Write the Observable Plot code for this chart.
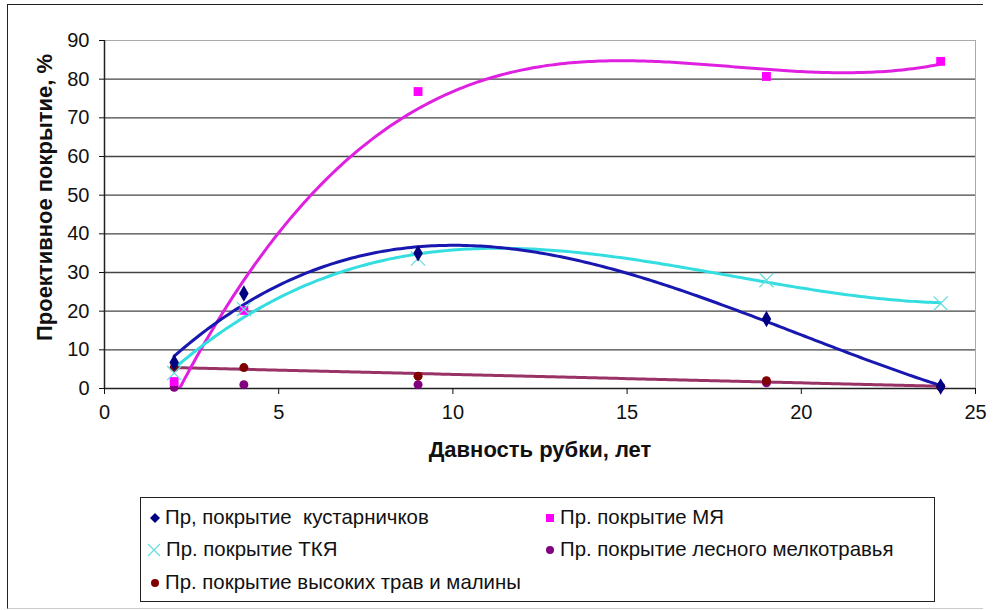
<!DOCTYPE html>
<html><head><meta charset="utf-8">
<script src="https://cdn.jsdelivr.net/npm/d3@7"></script>
<script src="https://cdn.jsdelivr.net/npm/@observablehq/plot@0.6"></script>
<style>
body{margin:0;background:#fff;font-family:"Liberation Sans",Arial,sans-serif;}
#wrap{position:relative;width:998px;height:610px;overflow:hidden;}
#frame{position:absolute;left:7px;top:4px;width:975px;height:603px;border-top:1.5px solid #222;border-left:1.5px solid #222;border-bottom:1px solid #ccc;}
#chart{position:absolute;left:0;top:0;}
#legend{position:absolute;left:140px;top:497px;width:795px;height:105px;border:1.5px solid #222;box-sizing:border-box;font-size:20.4px;color:#111;}
.item{position:absolute;display:flex;align-items:center;white-space:pre;}
.item svg{margin-right:4px;}
</style></head>
<body><div id="wrap"><div id="frame"></div><div id="chart"></div><div id="legend"></div></div>
<script>
const years = [2, 4, 9, 19, 24];
const shrubs = [6.7, 24.6, 35, 18, 0.5];      // Пр, покрытие кустарничков
const mosses = [1.8, 20.2, 76.8, 80.7, 84.6];  // Пр. покрытие МЯ
const tky = [4, 20.5, 33.6, 28, 22];           // Пр. покрытие ТКЯ
const smallHerbs = [0.3, 1, 1, 1.5, 0.5];      // Пр. покрытие лесного мелкотравья
const tallHerbs = [5.4, 5.4, 3.2, 2, 0.5];     // Пр. покрытие высоких трав и малины
const yTicks = [0,10,20,30,40,50,60,70,80,90];
const xTicks = [0,5,10,15,20,25];
const labels = ["Пр, покрытие  кустарничков","Пр. покрытие МЯ","Пр. покрытие ТКЯ","Пр. покрытие лесного мелкотравья","Пр. покрытие высоких трав и малины"];

// least-squares polynomial trend (like Excel trendline)
function polyfit(xs, ys, deg){
  const n = deg+1;
  const A = Array.from({length:n},()=>new Array(n+1).fill(0));
  for(let r=0;r<n;r++){
    for(let c=0;c<n;c++) A[r][c] = d3.sum(xs, x=>Math.pow(x,r+c));
    A[r][n] = d3.sum(xs.map((x,i)=>Math.pow(x,r)*ys[i]));
  }
  for(let i=0;i<n;i++){
    let p=i; for(let k=i+1;k<n;k++) if(Math.abs(A[k][i])>Math.abs(A[p][i])) p=k;
    [A[i],A[p]]=[A[p],A[i]];
    for(let k=0;k<n;k++){ if(k===i) continue; const f=A[k][i]/A[i][i]; for(let j=i;j<=n;j++) A[k][j]-=f*A[i][j]; }
  }
  return A.map((row,i)=>row[n]/row[i]);
}
function trend(ys, deg){
  const co = polyfit(years, ys, deg);
  return d3.range(years[0], years[years.length-1]+0.001, 0.1).map(x=>({x, y: d3.sum(co.map((c,i)=>c*Math.pow(x,i)))}));
}
const pts = (ys)=>years.map((x,i)=>({x, y: ys[i]}));

const chart = Plot.plot({
  width: 998, height: 490,
  marginLeft: 104, marginRight: 23, marginTop: 40, marginBottom: 102,
  style: {fontFamily: '"Liberation Sans", Arial, sans-serif', fontSize: "20px", color: "#111", background: "transparent"},
  x: {domain: [0,25], ticks: xTicks, label: null},
  y: {domain: [0,90], ticks: yTicks, label: null},
  marks: [
    Plot.frame({stroke: "#aaa", strokeWidth: 1}),
    Plot.ruleY(yTicks.filter(d=>d>0 && d<90), {stroke: "#444", strokeWidth: 1.3}),
    Plot.ruleY([0], {stroke: "#222", strokeWidth: 1.5}),
    Plot.ruleX([0], {stroke: "#222", strokeWidth: 1.5}),
    Plot.axisY({ticks: yTicks, tickSize: 5, tickPadding: 10, fontSize: 20, label: null}),
    Plot.axisX({ticks: xTicks, tickSize: 6, tickPadding: 10, fontSize: 20, label: null}),
    Plot.line(trend(tallHerbs,1), {x:"x", y:"y", stroke:"#993366", strokeWidth:3, clip:true}),
    Plot.line(trend(mosses,3), {x:"x", y:"y", stroke:"#e020e0", strokeWidth:3, clip:true}),
    Plot.line(trend(tky,3), {x:"x", y:"y", stroke:"#33dde0", strokeWidth:3, clip:true}),
    Plot.line(trend(shrubs,3), {x:"x", y:"y", stroke:"#1818b0", strokeWidth:3, clip:true}),
    Plot.dot(pts(smallHerbs), {x:"x", y:"y", symbol:"circle", r:4.5, fill:"#800080"}),
    Plot.dot(pts(tallHerbs), {x:"x", y:"y", symbol:"circle", r:4.5, fill:"#800000"}),
    Plot.dot(pts(mosses), {x:"x", y:"y", symbol:"square", r:5, fill:"#ff00ff"}),
    Plot.dot(pts(tky), {x:"x", y:"y", symbol:"times", r:6.5, stroke:"#66dddd", strokeWidth:1.3}),
    Plot.dot(pts(shrubs), {x:"x", y:"y", symbol:"diamond", r:5, fill:"#000080"}),
    Plot.text(["Давность рубки, лет"], {frameAnchor:"bottom", dy: 68, fontWeight:"bold", fontSize:22}),
    Plot.text(["Проективное покрытие, %"], {frameAnchor:"left", dx:-60, dy:-17, rotate:-90, textAnchor:"middle", fontWeight:"bold", fontSize:22})
  ]
});
document.getElementById("chart").appendChild(chart);

// legend
const sym = {
  diamond: '<svg width="12" height="12"><path d="M6,1L11,6L6,11L1,6Z" fill="#000080"/></svg>',
  square: '<svg width="12" height="12"><rect x="2" y="2" width="8" height="8" fill="#ff00ff"/></svg>',
  times: '<svg width="16" height="16"><path d="M2,2L14,14M14,2L2,14" stroke="#66dddd" stroke-width="1.2"/></svg>',
  purple: '<svg width="12" height="12"><circle cx="6" cy="6" r="4" fill="#800080"/></svg>',
  red: '<svg width="12" height="12"><circle cx="6" cy="6" r="4" fill="#800000"/></svg>'
};
const items = [
  [sym.diamond, labels[0], 8, 20],
  [sym.square, labels[1], 403, 20],
  [sym.times, labels[2], 5, 52],
  [sym.purple, labels[3], 403, 52],
  [sym.red, labels[4], 8, 85]
];
const lg = document.getElementById("legend");
for(const [s,t,x,y] of items){
  const d = document.createElement("div");
  d.className="item"; d.style.left=x+"px"; d.style.top=(y-12)+"px";
  d.innerHTML = s + "<span>"+t+"</span>";
  lg.appendChild(d);
}
</script></body></html>
